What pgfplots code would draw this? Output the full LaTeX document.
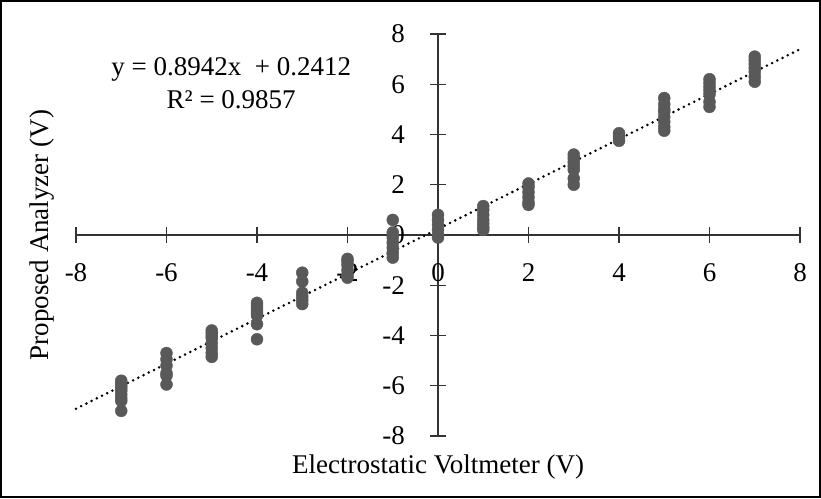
\documentclass[border=0pt]{standalone}
\usepackage{pgfplots}
\pgfplotsset{compat=1.18}
\usepackage{fontspec}
\setmainfont{Liberation Serif}
\definecolor{mk}{HTML}{595959}
\begin{document}
\begin{tikzpicture}
\useasboundingbox (-76pt,-62pt) rectangle (745pt,436pt);
\draw[line width=2pt] (-75pt,-61pt) rectangle (744pt,435pt);
\begin{axis}[
  at={(0,0)}, anchor=south west,
  scale only axis, width=724pt, height=402pt,
  xmin=-8, xmax=8, ymin=-8, ymax=8,
  axis lines=middle,
  axis line style={-, line width=1.1pt, color=black!80},
  hide obscured x ticks=false, hide obscured y ticks=false,
  xtick={-8,-6,...,8}, ytick={-8,-6,...,8},
  xticklabels={-8,-6,-4,-2,0,2,4,6,8},
  yticklabels={-8,-6,-4,-2,0,2,4,6,8},
  tick align=center, major tick length=16pt,
  tick style={line width=1.1pt, color=black!80},
  font=\fontsize{27}{32}\selectfont,
  xticklabel style={anchor=center, yshift=-30pt, inner sep=0pt},
  yticklabel style={anchor=east, xshift=-25pt, inner sep=0pt},
  clip=false,
]
\addplot[only marks, mark=*, mark size=6pt, color=mk, fill=mk] coordinates {
(-7,-5.8) (-7,-5.9) (-7,-6.0) (-7,-6.1) (-7,-6.2) (-7,-6.35) (-7,-6.5) (-7,-6.6) (-7,-7.0)
(-6,-4.7) (-6,-4.95) (-6,-5.2) (-6,-5.5) (-6,-5.6) (-6,-5.95)
(-5,-3.8) (-5,-3.9) (-5,-4.0) (-5,-4.1) (-5,-4.3) (-5,-4.5) (-5,-4.7) (-5,-4.85)
(-4,-2.7) (-4,-2.8) (-4,-2.9) (-4,-3.0) (-4,-3.1) (-4,-3.2) (-4,-3.55) (-4,-4.15)
(-3,-1.5) (-3,-1.85) (-3,-2.3) (-3,-2.45) (-3,-2.6) (-3,-2.75)
(-2,-0.95) (-2,-1.05) (-2,-1.2) (-2,-1.4) (-2,-1.6) (-2,-1.7)
(-1,0.6) (-1,0.1) (-1,-0.1) (-1,-0.3) (-1,-0.5) (-1,-0.7) (-1,-0.9)
(0,0.8) (0,0.6) (0,0.4) (0,0.2) (0,0.0) (0,-0.1)
(1,1.15) (1,1.0) (1,0.8) (1,0.6) (1,0.45) (1,0.3) (1,0.2)
(2,2.05) (2,1.9) (2,1.7) (2,1.5) (2,1.3) (2,1.2)
(3,3.2) (3,3.05) (3,2.9) (3,2.75) (3,2.6) (3,2.25) (3,2.0)
(4,4.05) (4,3.95) (4,3.85) (4,3.75)
(5,5.45) (5,5.2) (5,5.0) (5,4.9) (5,4.7) (5,4.5) (5,4.3) (5,4.15)
(6,6.2) (6,6.05) (6,5.9) (6,5.75) (6,5.6) (6,5.3) (6,5.1)
(7,7.1) (7,6.95) (7,6.8) (7,6.65) (7,6.5) (7,6.3) (7,6.1)
};
\addplot[black, line width=2.8pt, line cap=round, dash pattern=on 0pt off 5.8pt] coordinates {(-8,-6.9124) (8,7.3948)};
\node[font=\fontsize{27}{32}\selectfont] at (axis cs:-4.57,6.57) {y = 0.8942x \ + 0.2412};
\node[font=\fontsize{27}{32}\selectfont] at (axis cs:-4.57,5.38) {R² = 0.9857};
\node[font=\fontsize{27}{32}\selectfont] at (axis description cs:0.5,-0.077) {Electrostatic Voltmeter (V)};
\node[font=\fontsize{27}{32}\selectfont, rotate=90] at (axis description cs:-0.047,0.5) {Proposed Analyzer (V)};
\end{axis}
\end{tikzpicture}
\end{document}
